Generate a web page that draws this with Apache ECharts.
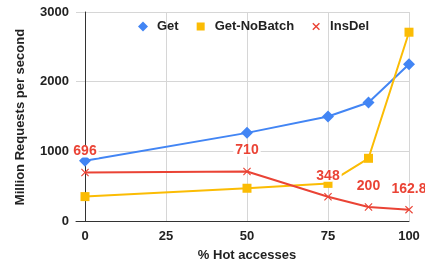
<!DOCTYPE html>
<html><head><meta charset="utf-8">
<script src="https://cdn.jsdelivr.net/npm/echarts@6/dist/echarts.min.js"></script>
<style>html,body{margin:0;padding:0;background:#fff}#c{width:425px;height:265px}</style>
</head><body><div id="c"></div>
<script>
const hotPct = [0, 50, 75, 87.5, 100];
const getVals = [865, 1265, 1500, 1700, 2250];
const noBatchVals = [350, 470, 540, 900, 2710];
const insDelVals = [696, 710, 348, 200, 162.8];
const xTicks = [0, 25, 50, 75, 100];
const yTicks = [0, 1000, 2000, 3000];

const FONT = 'Liberation Sans, Arial, sans-serif';
const crossPath = 'path://M0,1L1,0L5,4L9,0L10,1L6,5L10,9L9,10L5,6L1,10L0,9L4,5Z';
const bounds = 'M0,0L0.01,0L0,0.01ZM10,10L9.99,10L10,9.99Z';
const legendSquare = 'path://' + bounds + 'M1,1H9V9H1Z';
const legendCross = 'path://' + bounds + 'M1.2,2.2L2.2,1.2L5,4L7.8,1.2L8.8,2.2L6,5L8.8,7.8L7.8,8.8L5,6L2.2,8.8L1.2,7.8L4,5Z';
const pairs = v => hotPct.map((x, i) => [x, v[i]]);

const chart = echarts.init(document.getElementById('c'), null, {renderer: 'canvas'});
chart.setOption({
  animation: false,
  textStyle: {fontFamily: FONT},
  grid: [
    {left: 76, right: 16, top: 12, bottom: 44},
    {left: 85, right: 16, top: 12, bottom: 44}
  ],
  legend: {
    top: 20, left: 138, padding: 0, itemWidth: 10, itemHeight: 10, itemGap: 17,
    textStyle: {fontFamily: FONT, fontSize: 13, fontWeight: 'bold', color: '#222', padding: [0, 0, 0, 4]},
    data: [
      {name: 'Get', icon: 'diamond'},
      {name: 'Get-NoBatch', icon: legendSquare},
      {name: 'InsDel', icon: legendCross}
    ]
  },
  xAxis: [
    {gridIndex: 0, type: 'value', min: 0, max: 100, show: true,
     axisLine: {show: true, onZero: false, lineStyle: {color: '#333', width: 1}},
     axisTick: {show: false}, axisLabel: {show: false}, splitLine: {show: false}},
    {gridIndex: 1, type: 'value', min: 0, max: 100, interval: 25,
     axisLine: {show: false}, axisTick: {show: false},
     axisLabel: {margin: 9, fontFamily: FONT, fontSize: 13, fontWeight: 'bold', color: '#222',
                 formatter: v => String(v)},
     splitLine: {show: true, lineStyle: {color: '#d6d6d6', width: 1}}}
  ],
  yAxis: [
    {gridIndex: 0, type: 'value', min: 0, max: 3000, interval: 1000,
     axisLine: {show: false}, axisTick: {show: false},
     axisLabel: {margin: 7, fontFamily: FONT, fontSize: 13, fontWeight: 'bold', color: '#222',
                 formatter: v => String(v)},
     splitLine: {show: true, lineStyle: {color: '#d6d6d6', width: 1}}},
    {gridIndex: 1, type: 'value', min: 0, max: 3000, interval: 1000,
     axisLine: {show: true, onZero: false, lineStyle: {color: '#333', width: 1}},
     axisTick: {show: false}, axisLabel: {show: false}, splitLine: {show: false}}
  ],
  graphic: [
    {type: 'text', x: 247, y: 255,
     style: {text: '% Hot accesses', font: 'bold 13px ' + FONT, fill: '#222', textAlign: 'center', textVerticalAlign: 'middle'}},
    {type: 'text', rotation: Math.PI / 2, x: 20, y: 117,
     style: {text: 'Million Requests per second', font: 'bold 13px ' + FONT, fill: '#222', textAlign: 'center', textVerticalAlign: 'middle'}}
  ],
  series: [
    {name: 'Get', type: 'line', xAxisIndex: 1, yAxisIndex: 1, data: pairs(getVals),
     symbol: 'diamond', symbolSize: 12, color: '#4285F4', lineStyle: {width: 2},
     itemStyle: {color: '#4285F4', borderWidth: 0}},
    {name: 'Get-NoBatch', type: 'line', xAxisIndex: 1, yAxisIndex: 1, data: pairs(noBatchVals),
     symbol: 'rect', symbolSize: 9, color: '#FBBC04', lineStyle: {width: 2},
     itemStyle: {color: '#FBBC04', borderWidth: 0}},
    {name: 'InsDel', type: 'line', xAxisIndex: 1, yAxisIndex: 1, data: pairs(insDelVals),
     symbol: crossPath, symbolSize: 8, color: '#EA4335', lineStyle: {width: 2},
     itemStyle: {color: '#EA4335', borderWidth: 0},
     label: {show: true, position: 'top', distance: 11, fontFamily: FONT, fontSize: 14, fontWeight: 'bold', color: '#EA4335',
             backgroundColor: '#fff', padding: [0, 2, 0, 2], lineHeight: 12,
             formatter: p => String(p.value[1])}}
  ]
});
</script></body></html>
